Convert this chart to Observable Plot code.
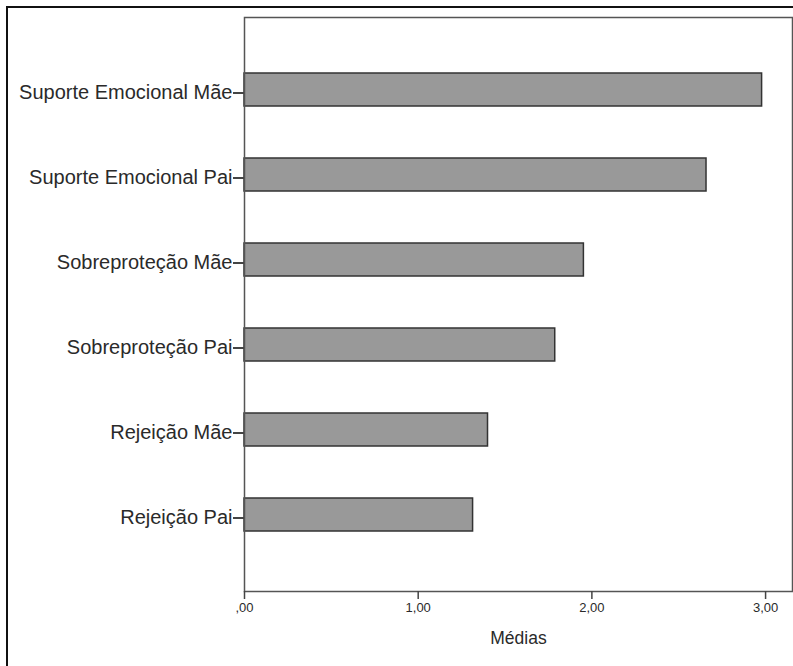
<!DOCTYPE html>
<html>
<head>
<meta charset="utf-8">
<script src="https://cdn.jsdelivr.net/npm/d3@7"></script>
<script src="https://cdn.jsdelivr.net/npm/@observablehq/plot@0.6"></script>
<style>
  html, body { margin: 0; padding: 0; background: #fff; }
  #wrap { position: relative; width: 793px; height: 666px; overflow: hidden; }
  #border { position: absolute; left: 6px; top: 6px; width: 800px; height: 700px;
            border-left: 2px solid #111; border-top: 2px solid #111; pointer-events: none; }
  svg { font-family: "Liberation Sans", Arial, sans-serif; }
</style>
</head>
<body>
<div id="wrap"><div id="border"></div></div>
<script>
const categories = ["Suporte Emocional Mãe", "Suporte Emocional Pai", "Sobreproteção Mãe", "Sobreproteção Pai", "Rejeição Mãe", "Rejeição Pai"];
const means = [2.98, 2.66, 1.954, 1.789, 1.402, 1.316];
const xTicks = [0, 1, 2, 3];
const xTickLabels = [",00", "1,00", "2,00", "3,00"];
const xTitle = "Médias";

const data = categories.map((c, i) => ({category: c, value: means[i]}));

const chart = Plot.plot({
  width: 793,
  height: 666,
  marginLeft: 244,
  marginRight: 1,
  marginTop: 17,
  marginBottom: 75,
  style: {background: "transparent", color: "#2a2a2a"},
  x: {domain: [0, 3.155], ticks: xTicks, tickFormat: (d) => xTickLabels[xTicks.indexOf(d)], label: null},
  y: {domain: categories, paddingInner: 0.61, paddingOuter: 0.66, align: 0.487, label: null},
  marks: [
    Plot.barX(data, {x: "value", y: "category", fill: "#999999", stroke: "#333", strokeWidth: 1.5}),
    Plot.frame({stroke: "#555", strokeWidth: 1.5}),
    Plot.axisX({ticks: xTicks, tickFormat: (d) => xTickLabels[xTicks.indexOf(d)], tickSize: 8, tickPadding: 3,
                fontSize: 13, stroke: "#444", strokeWidth: 1.5, fill: "#2a2a2a", label: null}),
    Plot.axisY({tickSize: 11, tickPadding: 1, fontSize: 20, stroke: "#444", strokeWidth: 2, dy: 3, fill: "#2a2a2a", label: null}),
    Plot.text([xTitle], {frameAnchor: "bottom", dy: 47, lineAnchor: "middle", fontSize: 17.5, fill: "#2a2a2a"})
  ]
});
document.getElementById("wrap").insertBefore(chart, document.getElementById("border"));
</script>
</body>
</html>
